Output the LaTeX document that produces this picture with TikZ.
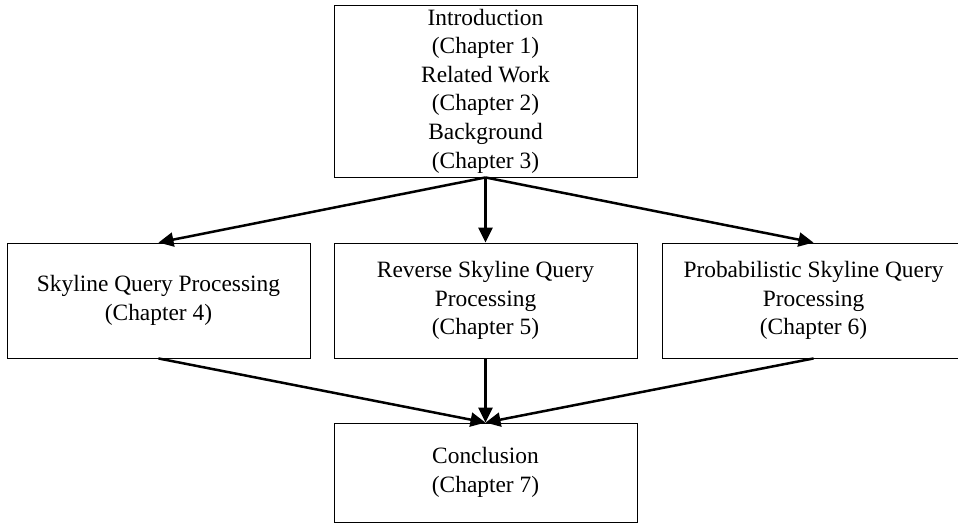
\documentclass[tikz,border=0pt]{standalone}
\usepackage{fontspec}
\setmainfont{Liberation Serif}
\usetikzlibrary{arrows.meta}
\begin{document}
\begin{tikzpicture}[x=1pt,y=-1pt,
  box/.style={draw,line width=0.9pt,minimum width=303pt,align=center,inner sep=0pt,
    font=\fontsize{23.4}{28.6}\selectfont},
  flow/.style={line width=2.5pt,-{Triangle[length=15pt,width=14pt]}}]
\useasboundingbox (0,0) rectangle (958,524);
\node[box,minimum height=172pt] (intro) at (485.5,91) {Introduction\\(Chapter 1)\\Related Work\\(Chapter 2)\\Background\\(Chapter 3)};
\node[box,minimum height=115pt] (sky) at (158.5,300.5) {Skyline Query Processing\\(Chapter 4)};
\node[box,minimum height=115pt] (rev) at (485.5,300.5) {Reverse Skyline Query\\Processing\\(Chapter 5)};
\node[box,minimum height=115pt] (prob) at (813.5,300.5) {Probabilistic Skyline Query\\Processing\\(Chapter 6)};
\node[box,minimum height=99pt] (conc) at (485.5,472.5) {Conclusion\\(Chapter 7)};
\draw[flow] (intro.south) -- (sky.north);
\draw[flow] (intro.south) -- (rev.north);
\draw[flow] (intro.south) -- (prob.north);
\draw[flow] (sky.south) -- (conc.north);
\draw[flow] (rev.south) -- (conc.north);
\draw[flow] (prob.south) -- (conc.north);
\end{tikzpicture}
\end{document}
